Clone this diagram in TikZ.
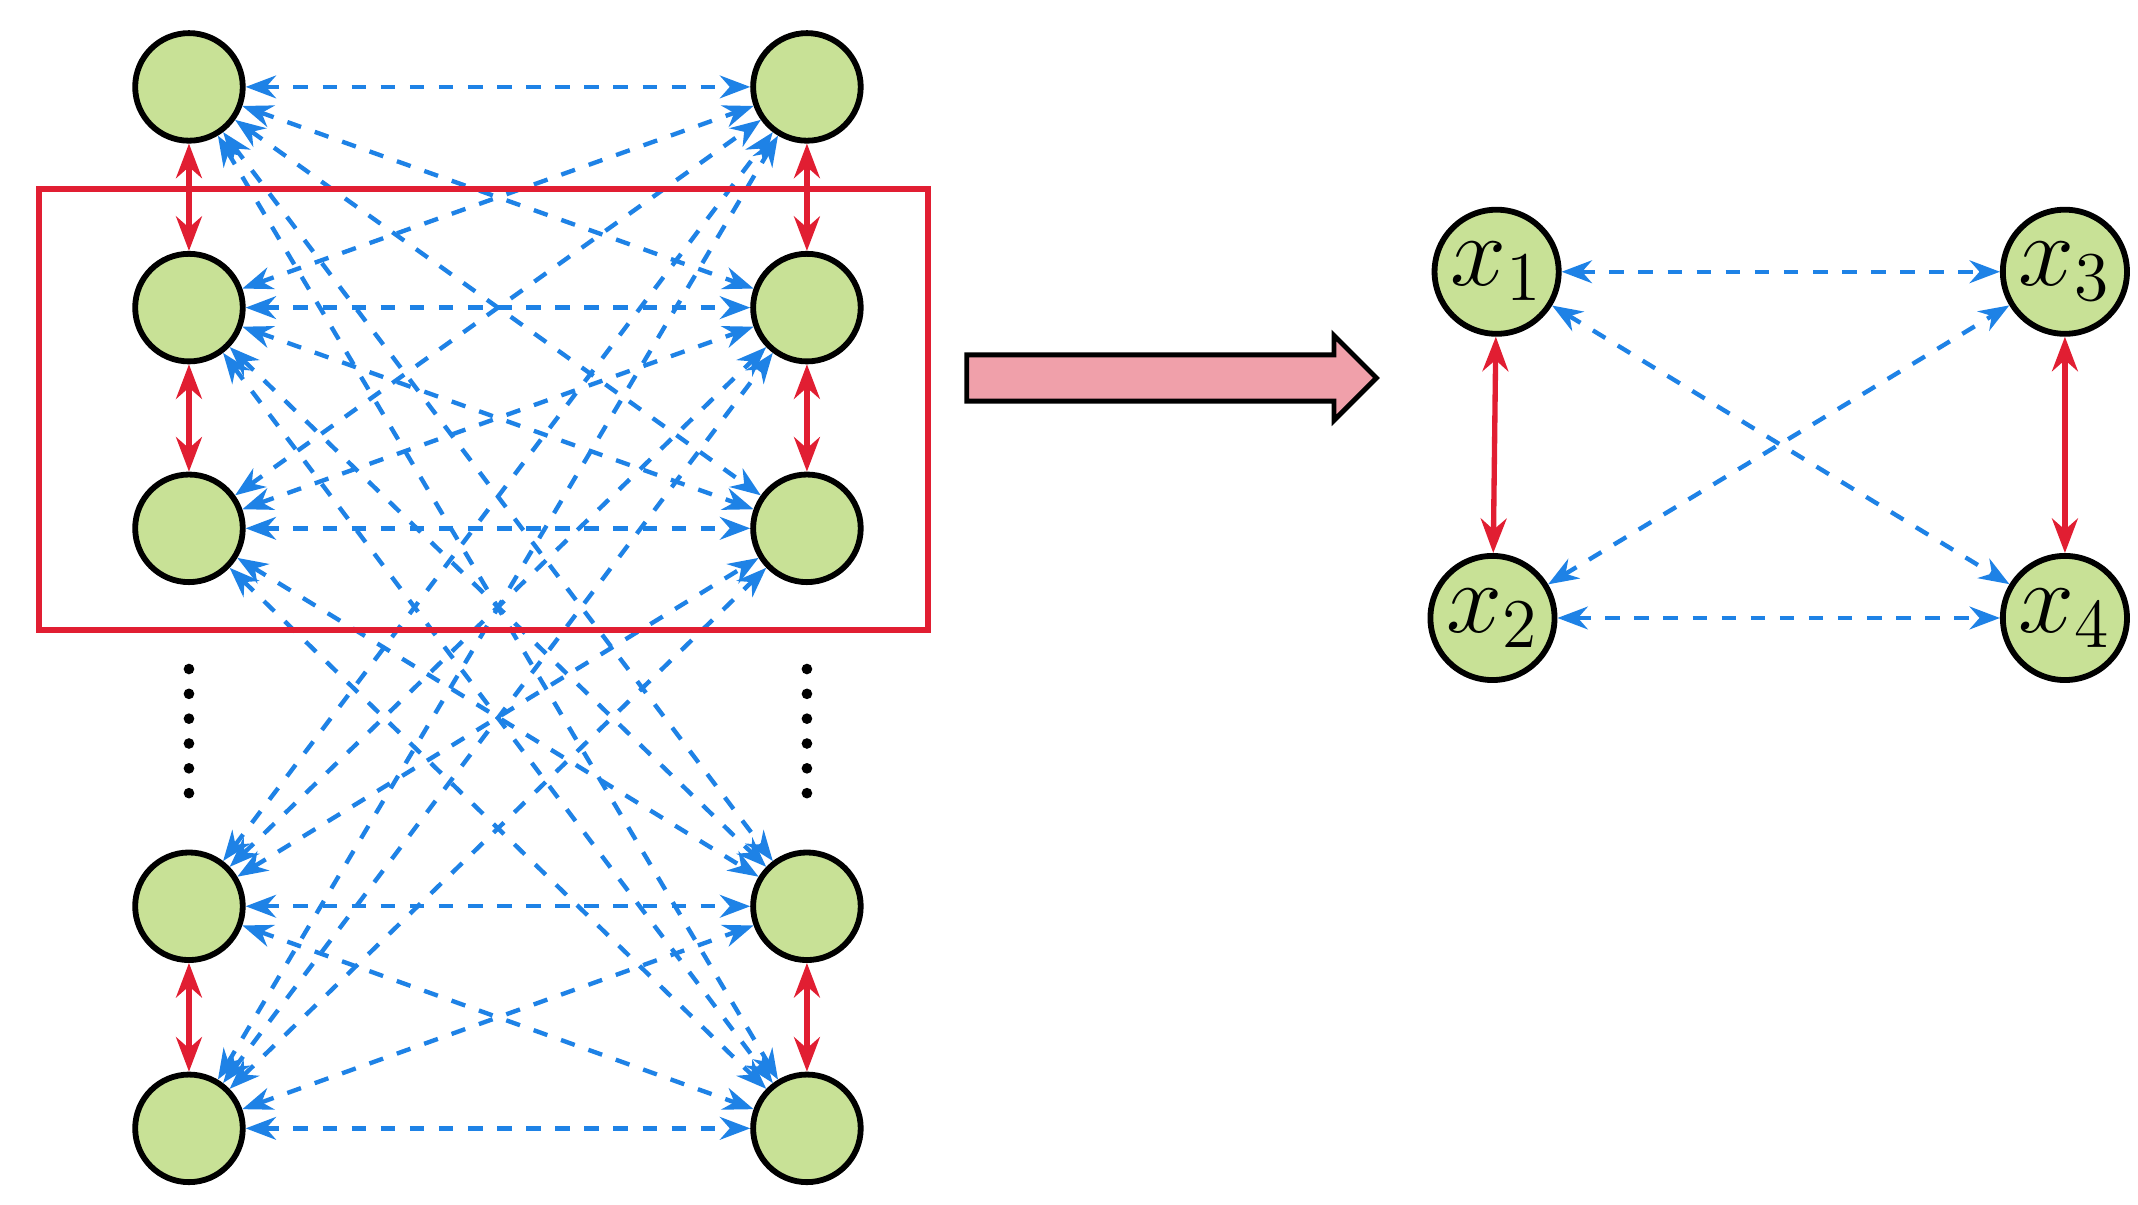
\documentclass[tikz,border=0pt]{standalone}
\usetikzlibrary{arrows.meta,shapes.arrows}
\definecolor{ng}{RGB}{200,225,150}
\definecolor{bb}{RGB}{30,130,230}
\definecolor{rr}{RGB}{225,30,50}
\definecolor{pk}{RGB}{240,160,170}
\begin{document}
\begin{tikzpicture}[x=0.1mm,y=-0.1mm,
  nd/.style={circle,draw=black,line width=1.2pt,fill=ng,minimum size=7.8mm,inner sep=0pt},
  bn/.style={circle,draw=black,line width=1.2pt,fill=ng,minimum size=9mm,inner sep=0pt,font=\huge},
  bl/.style={draw=bb,dashed,line width=0.9pt,{Stealth[length=2.2mm]}-{Stealth[length=2.2mm]}},
  rd/.style={draw=rr,line width=1.1pt,{Stealth[length=2.5mm]}-{Stealth[length=2.5mm]}}]
\useasboundingbox (0,0) rectangle (1550,873);
\foreach \i/\y in {1/63,2/223,3/383,4/657,5/818}{
  \node[nd] (L\i) at (137,\y) {};
  \node[nd] (R\i) at (585,\y) {};
}
\foreach \i in {1,...,5}{\foreach \j in {1,...,5}{\draw[bl] (L\i) -- (R\j);}}
\foreach \a/\b in {1/2,2/3,4/5}{\draw[rd] (L\a)--(L\b); \draw[rd] (R\a)--(R\b);}
\draw[rr,line width=1.2pt] (28,137) rectangle (673,457);
\foreach \x in {137,585}{\foreach \k in {0,...,5}{\fill (\x,485+\k*18) circle (1.1pt);}}
\node[single arrow,draw=black,line width=1pt,fill=pk,minimum height=29.7mm,inner ysep=1.5mm,inner xsep=0pt,single arrow head extend=1.4mm,anchor=center] (ar) at (841,274) {};
\node[bn] (x1) at (1085,197) {$x_1$};
\node[bn] (x2) at (1082,448) {$x_2$};
\node[bn] (x3) at (1497,197) {$x_3$};
\node[bn] (x4) at (1497,448) {$x_4$};
\draw[bl] (x1)--(x3); \draw[bl] (x2)--(x4); \draw[bl] (x1)--(x4); \draw[bl] (x2)--(x3);
\draw[rd] (x1)--(x2); \draw[rd] (x3)--(x4);
\end{tikzpicture}
\end{document}
